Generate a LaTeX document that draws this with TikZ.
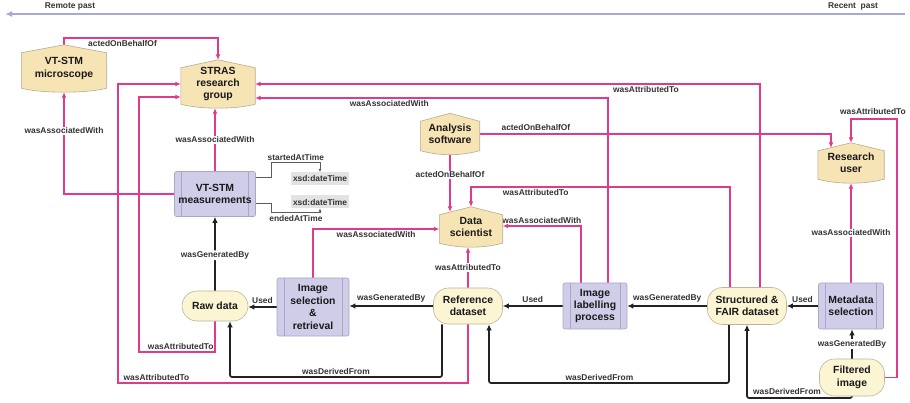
\documentclass[tikz,border=0pt]{standalone}
\usepackage{fontspec}
\setmainfont{Liberation Sans}
\usetikzlibrary{arrows.meta,calc}
\definecolor{pkc}{HTML}{E23A8A}
\definecolor{blkc}{HTML}{222222}
\definecolor{lblc}{HTML}{333333}
\definecolor{agentfill}{HTML}{F7E4B5}
\definecolor{agentborder}{HTML}{B4AC94}
\definecolor{entfill}{HTML}{FBF5D4}
\definecolor{entborder}{HTML}{BAB59C}
\definecolor{actfill}{HTML}{CFCDE8}
\definecolor{actborder}{HTML}{A9A7C9}
\definecolor{xsdfill}{HTML}{E3E3E3}
\definecolor{tlc}{HTML}{A9A9D9}
\pgfdeclarelayer{bg}
\pgfdeclarelayer{shp}
\pgfsetlayers{bg,shp,main}
\tikzset{
  ntext/.style={font=\fontsize{10.4}{12.4}\selectfont\bfseries, text=black!90, align=center, inner sep=0pt},
  agent/.style={ntext},
  agentdraw/.style={draw=agentborder, fill=agentfill, line width=0.6pt},
  activity/.style={ntext, draw=actborder, fill=actfill, rounded corners=2pt, line width=0.6pt,
    path picture={
      \draw[actborder, line width=0.6pt] ([xshift=7pt]path picture bounding box.north west) -- ([xshift=7pt]path picture bounding box.south west);
      \draw[actborder, line width=0.6pt] ([xshift=-7pt]path picture bounding box.north east) -- ([xshift=-7pt]path picture bounding box.south east);
    }},
  entity/.style={ntext, draw=entborder, fill=entfill, rounded corners=15pt, line width=0.6pt},
  lbl/.style={font=\fontsize{8.4}{10}\selectfont\bfseries, text=lblc, inner sep=1pt},
  xsd/.style={lbl, fill=xsdfill, minimum width=58pt, minimum height=13pt, inner sep=0pt},
  pk/.style={draw=pkc, line width=1.6pt, -{Latex[length=5.5pt,width=5pt]}},
  blk/.style={draw=blkc, line width=1.7pt, rounded corners=2pt, -{Latex[length=6pt,width=5.5pt]}},
  tline/.style={draw=lblc!80, line width=0.7pt, -{Latex[length=3pt,width=3pt]}},
  timeline/.style={draw=tlc, line width=2pt, -{Latex[length=7pt,width=6pt]}},
}
\begin{document}
\begin{tikzpicture}[x=1pt,y=-1pt]
\useasboundingbox (0,0) rectangle (910,403);

% timeline
\coordinate (tR) at (905,14);
\coordinate (tL) at (5,14);
\draw[timeline] (tR) -- (tL);
\node[lbl] (remote) at (70,6) {Remote past};
\node[lbl] (recent) at (853,6) {Recent~ past};

% agents
\node[agent, minimum width=85pt, minimum height=47pt] (micro) at (64,68.5) {VT-STM\\microscope};
\node[agent, minimum width=74pt, minimum height=48pt] (stras) at (218,84) {STRAS\\research\\group};
\node[agent, minimum width=59pt, minimum height=41pt] (analysis) at (450,134) {Analysis\\software};
\node[agent, minimum width=63pt, minimum height=40pt] (datasci) at (471,227) {Data\\scientist};
\node[agent, minimum width=66pt, minimum height=40pt] (ruser) at (851,163) {Research\\user};

% activities
\node[activity, minimum width=81pt, minimum height=45pt] (meas) at (215,194) {VT-STM\\measurements};
\node[activity, minimum width=72pt, minimum height=58pt] (imgsel) at (313,307) {Image\\selection\\\&\\retrieval};
\node[activity, minimum width=64pt, minimum height=46pt] (imglab) at (595,306) {Image\\labelling\\process};
\node[activity, minimum width=65pt, minimum height=46pt] (metasel) at (851,306) {Metadata\\selection};

% entities
\node[entity, minimum width=66pt, minimum height=30pt] (raw) at (215,306) {Raw data};
\node[entity, minimum width=69pt, minimum height=36pt] (ref) at (468,306) {Reference\\dataset};
\node[entity, minimum width=79pt, minimum height=37pt] (fair) at (747,306) {Structured \&\\FAIR dataset};
\node[entity, minimum width=65pt, minimum height=37pt] (filt) at (852,377.5) {Filtered\\image};

% xsd boxes
\node[xsd] (xsd1) at (320,178.5) {xsd:dateTime};
\node[xsd] (xsd2) at (320,202) {xsd:dateTime};

% agent shapes
\begin{pgfonlayer}{shp}
\foreach \n in {micro,stras,analysis,datasci,ruser}{
  \draw[agentdraw] ($(\n.north west)+(0,8)$) -- (\n.north) -- ($(\n.north east)+(0,8)$)
    -- ($(\n.south east)+(0,-4)$)
    .. controls ($(\n.south east)+(-20,1.33)$) and ($(\n.south west)+(20,1.33)$) .. ($(\n.south west)+(0,-4)$) -- cycle;
}
\end{pgfonlayer}

\begin{pgfonlayer}{bg}
% coordinates for routed connectors
\coordinate (d1a) at (442,377); \coordinate (d1b) at (230,377);
\coordinate (d2a) at (729,383); \coordinate (d2b) at (489,383);
\coordinate (d3a) at (852,398); \coordinate (d3b) at (747,398);
\coordinate (p1) at (139,352); \coordinate (p2) at (139,97);
\coordinate (p3) at (118,383); \coordinate (p4) at (118,84);
\coordinate (p5) at (760,84);
\coordinate (p6) at (608,98);
\coordinate (p8) at (730,187);
\coordinate (p9) at (581,226);
\coordinate (p10) at (313,229);
\coordinate (p11) at (897,119);
\coordinate (ru) at ($(ruser.north)+(-20,5)$);
\coordinate (ds) at ($(analysis.south |- datasci.north)+(0,5)$);

% black: generation / usage
\draw[blk] (raw.north) -- node[lbl,fill=white,pos=0.48]{wasGeneratedBy} (raw.north |- meas.south);
\draw[blk] (imgsel.west) -- node[lbl,above=1.5pt]{Used} (imgsel.west -| raw.east);
\draw[blk] (ref.west) -- node[lbl,above=1.5pt]{wasGeneratedBy} (ref.west -| imgsel.east);
\draw[blk] (imglab.west) -- node[lbl,above=1.5pt]{Used} (imglab.west -| ref.east);
\draw[blk] (fair.west) -- node[lbl,above=1.5pt]{wasGeneratedBy} (fair.west -| imglab.east);
\draw[blk] (metasel.west) -- node[lbl,above=1.5pt]{Used} (metasel.west -| fair.east);
\draw[blk] (filt.north) -- node[lbl,fill=white]{wasGeneratedBy} (filt.north |- metasel.south);

% black: derivations
\draw[blk] (ref.south -| d1a) -- (d1a) -- node[lbl,above=1pt]{wasDerivedFrom} (d1b) -- (raw.south -| d1b);
\draw[blk] (fair.south -| d2a) -- (d2a) -- node[lbl,above=1pt,pos=0.54]{wasDerivedFrom} (d2b) -- (ref.south -| d2b);
\draw[blk] (filt.south) -- (d3a) -- (d3b) -- (fair.south -| d3b);
\node[lbl] (dlbl3) at (787,391) {wasDerivedFrom};

% gray: times
\draw[tline] ($(meas.north east)+(0,6)$) -- ++(16,0) |- node[lbl,above=1pt,pos=0.75]{startedAtTime} ($(xsd1.north)+(0,-9)$) -- (xsd1.north);
\draw[tline] ($(meas.south east)+(0,-13)$) -- ++(16,0) |- node[lbl,below=1pt,pos=0.75]{endedAtTime} ($(xsd2.south)+(0,4)$) -- (xsd2.south);

% pink
\draw[pk] (micro.north) -- ++(0,-7) -| node[lbl,below=1pt,pos=0.19]{actedOnBehalfOf} (stras.north);
\draw[pk] (meas.west) -| node[lbl,fill=white,pos=0.81]{wasAssociatedWith} (micro.south);
\draw[pk] (meas.north) -- node[lbl,fill=white]{wasAssociatedWith} (meas.north |- stras.south);
\draw[pk] (raw.south) -- (raw.south |- p1) -- node[lbl,above=1pt,pos=0.45]{wasAttributedTo} (p1) -- (p2) -- (stras.west |- p2);
\draw[pk] (ref.south) -- (ref.south |- p3) -- node[lbl,above=1pt,pos=0.89]{wasAttributedTo} (p3) -- (p4) -- (stras.west |- p4);
\draw[pk] (fair.north -| p5) -- (p5) -- node[lbl,below=1pt,pos=0.226]{wasAttributedTo} (stras.east |- p5);
\draw[pk] (imglab.north -| p6) -- (p6) -- node[lbl,below=1pt,pos=0.62]{wasAssociatedWith} (stras.east |- p6);
\draw[pk] (analysis.south) -- node[lbl,fill=white,pos=0.35]{actedOnBehalfOf} (ds);
\draw[pk] (analysis.east) -| node[lbl,above=2pt,pos=0.08]{actedOnBehalfOf} (ru);
\draw[pk] (fair.north -| p8) -- (p8) -- node[lbl,below=1pt,pos=0.75]{wasAttributedTo} (datasci.north |- p8) -- (datasci.north);
\draw[pk] (imglab.north -| p9) -- (p9) -- node[lbl,above=1pt]{wasAssociatedWith} (datasci.east |- p9);
\draw[pk] (imgsel.north) -- (imgsel.north |- p10) -- node[lbl,below=0.5pt]{wasAssociatedWith} (datasci.west |- p10);
\draw[pk] (ref.north) -- node[lbl,fill=white]{wasAttributedTo} (ref.north |- datasci.south);
\draw[pk] (metasel.north) -- node[lbl,fill=white]{wasAssociatedWith} (metasel.north |- ruser.south);
\draw[pk] (filt.east) -- (filt.east -| p11) -- (p11) -- (ruser.north |- p11) -- (ruser.north);
\node[lbl] (albl) at (873,112) {wasAttributedTo};
\end{pgfonlayer}
\end{tikzpicture}
\end{document}
